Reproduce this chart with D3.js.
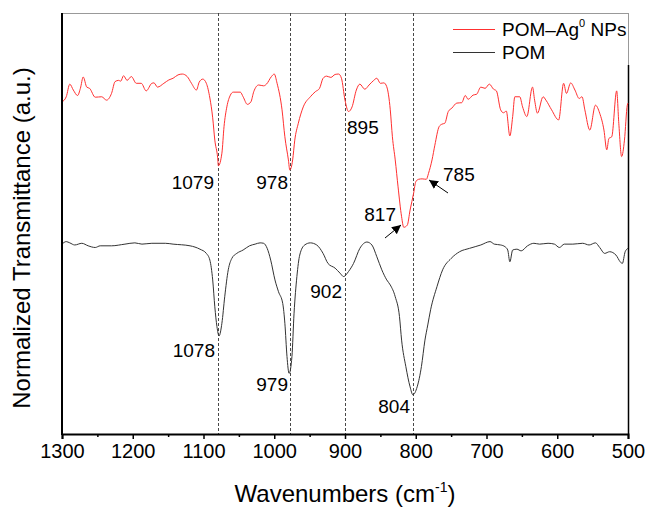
<!DOCTYPE html>
<html><head><meta charset="utf-8">
<script src="https://cdn.jsdelivr.net/npm/d3@7"></script>
<style>body{margin:0;background:#fff}svg{display:block}text{font-family:"Liberation Sans",Arial,sans-serif;fill:#000}</style>
</head><body><svg id="c" width="646" height="510"></svg>
<script>
// POM-Ag0 NPs spectrum (wavenumber, normalized transmittance a.u.)
const agWn = [1300,1294,1289,1284,1278,1274,1270,1265,1261,1253,1244,1237,1230,1225,1220,1217,1213,1208,1202,1195,1188,1181,1173,1170,1165,1156,1149,1143,1136,1130,1123,1117,1110,1106,1101,1096,1091,1087,1084,1080,1079,1074,1071,1067,1062,1058,1048,1044,1038,1033,1029,1022,1015,1011,1004,1000,996,989,985,980,978,974,971,966,959,949,942,936,931,926,920,914,909,905,900,895,890,884,879,872,866,860,855,850,845,841,836,833,829,825,820,817,812,808,803,800,796,791,785,782,777,773,767,763,759,754,749,742,735,730,726,719,714,708,702,696,690,686,680,676,672,667,663,660,653,649,643,635,632,628,620,616,608,598,591,587,581,575,569,565,561,554,546,540,534,530,527,523,516,513,509,505,501,500];
const agT  = [78.9,80.1,83.1,81.7,80.4,82.1,84.8,82.4,82.1,80.0,80.1,79.3,80.9,83.7,84.0,83.8,85.1,84.0,84.9,83.3,83.3,81.5,83.3,83.4,82.4,83.3,84.1,84.5,85.3,85.5,84.9,83.3,81.7,83.6,84.3,83.3,79.8,75.1,69.8,65.6,63.7,66.7,73.0,77.7,80.5,81.2,81.2,80.1,78.3,78.9,81.3,82.9,82.7,83.1,84.9,85.5,83.3,77.0,70.6,65.1,62.7,65.1,69.8,73.8,77.7,80.1,81.3,82.1,84.5,85.0,84.7,85.4,85.5,84.5,79.3,76.6,77.7,81.7,83.1,81.9,82.9,83.9,84.5,83.3,83.4,82.5,77.0,70.6,65.1,58.7,51.6,49.1,49.6,53.2,57.2,59.9,60.5,60.6,60.5,61.9,65.1,68.6,73.0,73.6,73.8,76.6,77.4,78.6,78.7,80.4,79.5,80.5,80.7,82.4,82.1,83.1,81.9,81.5,77.0,76.3,76.7,70.8,75.4,80.1,80.1,77.7,75.4,82.4,79.3,76.2,80.1,79.3,77.0,74.6,83.3,80.9,83.4,81.7,79.7,80.1,77.0,72.2,78.1,76.2,72.2,67.5,70.2,70.6,81.5,73.8,65.9,69.8,78.1,78.6];
// POM spectrum
const pomWn = [1300,1294,1289,1282,1272,1263,1253,1246,1230,1211,1197,1187,1173,1154,1143,1119,1105,1096,1091,1087,1084,1081,1078,1074,1070,1065,1060,1053,1044,1035,1027,1020,1015,1010,1005,999,994,988,985,982,979,975,972,968,964,957,949,940,931,924,914,907,902,895,888,879,869,862,855,848,841,836,829,823,820,814,808,804,798,792,787,783,779,770,762,750,738,724,708,695,689,680,674,670,667,663,657,651,642,633,625,613,604,597,590,578,564,555,546,540,533,526,517,511,508,504,500];
const pomT  = [45.1,45.7,45.4,44.9,45.3,44.7,44.3,44.7,44.7,45.1,45.4,45.1,45.3,45.3,45.1,44.7,43.9,42.9,41.3,36.6,30.2,25.5,23.3,26.3,32.6,39.0,41.7,42.9,43.7,44.7,45.1,45.4,45.3,44.1,41.3,36.6,33.8,31.0,26.3,18.4,14.4,18.4,28.7,37.4,42.5,44.9,45.4,44.9,42.9,40.5,39.4,38.2,37.4,38.6,40.5,44.1,45.6,44.9,42.1,39.0,36.6,35.4,32.6,27.9,22.3,16.0,11.2,9.3,11.2,16.0,22.3,25.9,29.5,35.0,39.0,41.7,43.3,44.1,44.9,45.7,45.1,44.9,44.5,43.7,40.9,43.7,43.9,43.5,44.7,45.3,45.1,45.3,45.1,44.3,45.1,45.1,45.3,44.9,45.4,44.3,42.9,43.3,42.5,40.9,40.5,43.3,44.1];
const xTicks = [1300,1200,1100,1000,900,800,700,600,500];
const xMinor = [1250,1150,1050,950,850,750,650,550];
const guideWn = [1079,978,900,804];
const agLabels  = ["1079","978","895","817","785"];
const agLabelWn = [1079,978,895,817,785];
const pomLabels  = ["1078","979","902","804"];
const pomLabelWn = [1078,979,902,804];

const svg = d3.select("#c");
const L=62,R=628,T=13,B=434;
const x = d3.scaleLinear().domain([1300,500]).range([L,R]);
const y = d3.scaleLinear().domain([0,100]).range([B,T]);

// frame top/right
svg.append("line").attr("x1",L).attr("x2",R).attr("y1",T+0.5).attr("y2",T+0.5).attr("stroke","#999").attr("stroke-width",1);
svg.append("line").attr("x1",R+0.5).attr("x2",R+0.5).attr("y1",T).attr("y2",65).attr("stroke","#999").attr("stroke-width",1);
svg.append("line").attr("x1",R+0.5).attr("x2",R+0.5).attr("y1",65).attr("y2",B).attr("stroke","#000").attr("stroke-width",1.5);

// guides
svg.selectAll(".guide").data(guideWn).join("line")
  .attr("x1",d=>Math.round(x(d))+0.5).attr("x2",d=>Math.round(x(d))+0.5)
  .attr("y1",T).attr("y2",B).attr("stroke","#333").attr("stroke-width",0.9).attr("stroke-dasharray","3,2");

const line = d3.line().x(d=>x(d[0])).y(d=>y(d[1])).curve(d3.curveMonotoneX);
svg.append("path").datum(pomWn.map((w,i)=>[w,pomT[i]])).attr("d",line)
  .attr("fill","none").attr("stroke","#333").attr("stroke-width",1);
svg.append("path").datum(agWn.map((w,i)=>[w,agT[i]])).attr("d",line)
  .attr("fill","none").attr("stroke","#ff3030").attr("stroke-width",1);

// x axis
const ax = svg.append("g").attr("transform",`translate(0,${B})`)
  .call(d3.axisBottom(x).tickValues(xTicks).tickSize(5).tickPadding(5).tickFormat(d3.format("d")));
ax.select(".domain").attr("stroke","#000").attr("stroke-width",2);
ax.selectAll(".tick line").attr("stroke-width",1.5);
ax.selectAll("text").style("font-size","20px").attr("font-family","Liberation Sans, Arial, sans-serif");
const axm = svg.append("g").attr("transform",`translate(0,${B})`)
  .call(d3.axisBottom(x).tickValues(xMinor).tickSize(3).tickFormat(""));
axm.select(".domain").remove();
axm.selectAll(".tick line").attr("stroke-width",1.5);
// y axis line (no ticks)
svg.append("line").attr("x1",L).attr("x2",L).attr("y1",T).attr("y2",B+1).attr("stroke","#000").attr("stroke-width",2);

// titles
const xt = svg.append("text").attr("x",345).attr("y",502).attr("text-anchor","middle").style("font-size","24px");
xt.append("tspan").text("Wavenumbers (cm");
xt.append("tspan").attr("dy",-10).style("font-size","14px").text("-1");
xt.append("tspan").attr("dy",10).text(")");
svg.append("text").attr("transform","translate(30,238) rotate(-90)").attr("text-anchor","middle")
  .style("font-size","24px").text("Normalized Transmittance (a.u.)");

// peak labels
const agPos = [[214,189,"end"],[288,189,"end"],[347,134,"start"],[396,221,"end"],[443,181,"start"]];
agLabels.forEach((t,i)=>{
  svg.append("text").attr("x",agPos[i][0]).attr("y",agPos[i][1]).attr("text-anchor",agPos[i][2]).style("font-size","19px").text(t);
});
const pomPos = [[215,357,"end"],[288,391,"end"],[342,298,"end"],[410,413,"end"]];
pomLabels.forEach((t,i)=>{
  svg.append("text").attr("x",pomPos[i][0]).attr("y",pomPos[i][1]).attr("text-anchor",pomPos[i][2]).style("font-size","19px").text(t);
});

// arrows
svg.append("defs").append("marker").attr("id","ah").attr("viewBox","0 0 10 10").attr("refX",10).attr("refY",5)
  .attr("markerWidth",9).attr("markerHeight",9).attr("markerUnits","userSpaceOnUse").attr("orient","auto")
  .append("path").attr("d","M0,0L10,5L0,10z").attr("fill","#000");
const arrows = [[385,238,401,225],[448,193,429,180]];
arrows.forEach(a=>{
  svg.append("line").attr("x1",a[0]).attr("y1",a[1]).attr("x2",a[2]).attr("y2",a[3])
    .attr("stroke","#000").attr("stroke-width",1).attr("marker-end","url(#ah)");
});

// legend
svg.append("line").attr("x1",453).attr("x2",495).attr("y1",29.5).attr("y2",29.5).attr("stroke","#ff3030").attr("stroke-width",1);
svg.append("line").attr("x1",453).attr("x2",495).attr("y1",52.5).attr("y2",52.5).attr("stroke","#333").attr("stroke-width",1);
const lt = svg.append("text").attr("x",502).attr("y",36).style("font-size","19px");
lt.append("tspan").text("POM\u2013Ag");
lt.append("tspan").attr("dy",-9).style("font-size","11px").text("0");
lt.append("tspan").attr("dy",9).text(" NPs");
svg.append("text").attr("x",502).attr("y",59).style("font-size","19px").text("POM");
</script></body></html>
